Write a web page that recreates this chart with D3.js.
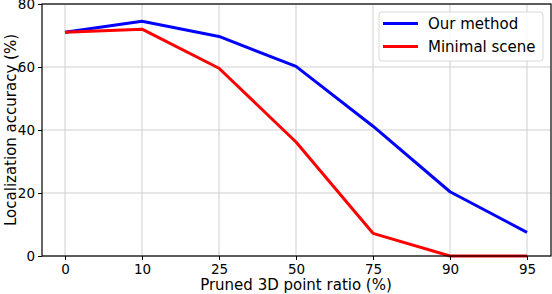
<!DOCTYPE html>
<html><head><meta charset="utf-8">
<script src="https://cdn.jsdelivr.net/npm/d3@7"></script>
<style>body{margin:0;background:#fff}svg{display:block}text{font-family:"DejaVu Sans",sans-serif;fill:#000}</style>
</head><body><svg id="c" width="552" height="294"></svg>
<script>
const categories = ["0","10","25","50","75","90","95"];
const ourMethod = [71, 74.5, 69.7, 60.2, 41.2, 20.4, 7.5];
const minimalScene = [71, 72, 59.6, 36.2, 7.2, 0, 0];
const yTicks = [0, 20, 40, 60, 80];
const seriesNames = ["Our method", "Minimal scene"];
const colors = ["#0000ff", "#ff0000"];

const svg = d3.select("#c");
const m = {l: 42, r: 551, t: 4, b: 256};
const x = d3.scalePoint().domain(categories).range([65, 527]);
const y = d3.scaleLinear().domain([0, 80]).range([m.b, m.t]);

// grid
svg.append("g").selectAll("line").data(categories).join("line")
  .attr("x1", d => x(d)).attr("x2", d => x(d)).attr("y1", m.t).attr("y2", m.b)
  .attr("stroke", "#cfcfcf").attr("stroke-width", 1);
svg.append("g").selectAll("line").data(yTicks).join("line")
  .attr("x1", m.l).attr("x2", m.r).attr("y1", d => y(d)).attr("y2", d => y(d))
  .attr("stroke", "#cfcfcf").attr("stroke-width", 1);

const line = d3.line().x((d, i) => x(categories[i])).y(d => y(d));
[ourMethod, minimalScene].forEach((s, k) => {
  svg.append("path").datum(s).attr("d", line).attr("fill", "none")
    .attr("stroke", colors[k]).attr("stroke-width", 3).attr("stroke-linejoin", "round");
});

// axes
const xa = svg.append("g").attr("transform", `translate(0,${m.b})`)
  .call(d3.axisBottom(x).tickSize(4).tickPadding(4));
const ya = svg.append("g").attr("transform", `translate(${m.l},0)`)
  .call(d3.axisLeft(y).tickValues(yTicks).tickSize(4).tickPadding(3));
[xa, ya].forEach(a => { a.select(".domain").remove(); a.selectAll("text").attr("font-size", 13.5).attr("font-family", "DejaVu Sans"); a.selectAll("line").attr("stroke", "#000"); });

svg.append("rect").attr("x", m.l).attr("y", m.t).attr("width", m.r - m.l).attr("height", m.b - m.t)
  .attr("fill", "none").attr("stroke", "#000").attr("stroke-width", 1.2);

svg.append("text").attr("x", 296).attr("y", 290).attr("text-anchor", "middle")
  .attr("font-size", 15).text("Pruned 3D point ratio (%)");
svg.append("text").attr("transform", `translate(16,${(m.t + m.b) / 2}) rotate(-90)`)
  .attr("text-anchor", "middle").attr("font-size", 15).text("Localization accuracy (%)");

// legend
const lg = svg.append("g");
lg.append("rect").attr("x", 379).attr("y", 12).attr("width", 164).attr("height", 49).attr("rx", 3)
  .attr("fill", "#fff").attr("fill-opacity", 0.85).attr("stroke", "#d8d8d8");
seriesNames.forEach((n, i) => {
  const yy = 23.5 + i * 23;
  lg.append("line").attr("x1", 383).attr("x2", 418).attr("y1", yy).attr("y2", yy)
    .attr("stroke", colors[i]).attr("stroke-width", 3);
  lg.append("text").attr("x", 428).attr("y", yy + 5.5).attr("font-size", 15).text(n);
});
</script></body></html>
